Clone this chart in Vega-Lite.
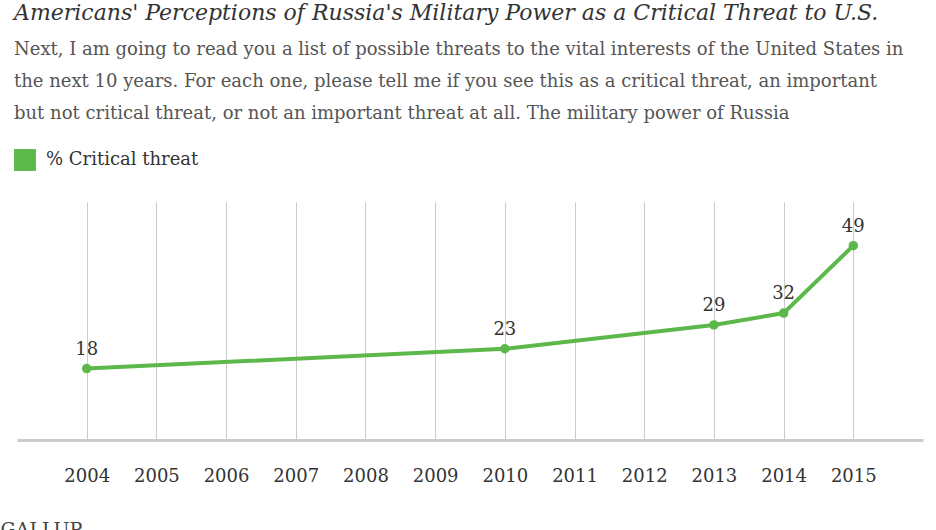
{
  "$schema": "https://vega.github.io/schema/vega-lite/v6.json",
  "width": 906,
  "height": 238,
  "autosize": "none",
  "padding": {"left": 17, "top": 202, "right": 13, "bottom": 90},
  "background": "white",
  "config": {"view": {"stroke": null}},
  "title": {
    "text": "Americans' Perceptions of Russia's Military Power as a Critical Threat to U.S.",
    "subtitle": [
      "Next, I am going to read you a list of possible threats to the vital interests of the United States in",
      "the next 10 years. For each one, please tell me if you see this as a critical threat, an important",
      "but not critical threat, or not an important threat at all. The military power of Russia"
    ],
    "anchor": "start",
    "frame": "group",
    "dx": -3,
    "offset": 25,
    "font": "DejaVu Serif",
    "fontStyle": "italic",
    "fontWeight": "normal",
    "fontSize": 22,
    "color": "#333333",
    "subtitleFont": "DejaVu Serif",
    "subtitleFontSize": 18,
    "subtitleColor": "#555555",
    "subtitleLineHeight": 32,
    "subtitlePadding": 16
  },
  "data": {
    "values": [
      {"year": 2004, "value": 18, "series": "% Critical threat"},
      {"year": 2010, "value": 23, "series": "% Critical threat"},
      {"year": 2013, "value": 29, "series": "% Critical threat"},
      {"year": 2014, "value": 32, "series": "% Critical threat"},
      {"year": 2015, "value": 49, "series": "% Critical threat"}
    ]
  },
  "encoding": {
    "x": {
      "field": "year",
      "type": "quantitative",
      "scale": {"domain": [2003, 2016], "nice": false, "zero": false},
      "axis": {
        "values": [2004, 2005, 2006, 2007, 2008, 2009, 2010, 2011, 2012, 2013, 2014, 2015],
        "format": "d",
        "grid": true,
        "gridColor": "#cccccc",
        "gridWidth": 1,
        "ticks": false,
        "domainColor": "#cccccc",
        "domainWidth": 3,
        "labelFont": "DejaVu Serif",
        "labelFontSize": 18,
        "labelColor": "#333333",
        "labelPadding": 27,
        "title": "GALLUP",
        "titleFont": "DejaVu Serif",
        "titleFontSize": 19,
        "titleFontWeight": "normal",
        "titleColor": "#444444",
        "titleAnchor": "start",
        "titleAlign": "left",
        "titleX": -17,
        "titleY": 80
      }
    },
    "y": {
      "field": "value",
      "type": "quantitative",
      "scale": {"domain": [0, 60], "nice": false},
      "axis": null
    }
  },
  "layer": [
    {
      "mark": {"type": "line", "color": "#5cb84a", "strokeWidth": 4}
    },
    {
      "mark": {"type": "point", "filled": true, "size": 90, "opacity": 1},
      "encoding": {
        "color": {
          "field": "series",
          "type": "nominal",
          "scale": {"range": ["#5cb84a"]},
          "legend": {
            "title": null,
            "orient": "none",
            "legendX": -3,
            "legendY": -53,
            "symbolType": "square",
            "symbolSize": 480,
            "symbolStrokeWidth": 0,
            "symbolOpacity": 1,
            "labelFont": "DejaVu Serif",
            "labelFontSize": 18,
            "labelColor": "#333333",
            "labelOffset": 10
          }
        }
      }
    },
    {
      "mark": {"type": "text", "baseline": "bottom", "dy": -10, "font": "DejaVu Serif", "fontSize": 18, "color": "#333333"},
      "encoding": {"text": {"field": "value", "type": "quantitative"}}
    }
  ]
}
